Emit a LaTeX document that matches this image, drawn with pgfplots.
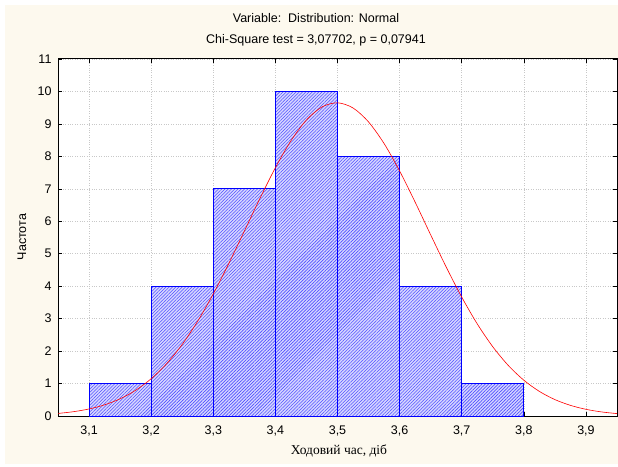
\documentclass[border=0pt]{standalone}
\usepackage{fontspec}
\setmainfont{Liberation Sans}
\newfontfamily\serifcyr{Liberation Serif}
\usepackage{pgfplots}
\pgfplotsset{compat=1.18}
\usetikzlibrary{patterns.meta}

\definecolor{cream}{RGB}{253,249,238}
\definecolor{gridgray}{RGB}{200,200,200}
\definecolor{hatchbg}{RGB}{215,215,255}
\definecolor{hatchfg}{RGB}{80,80,255}

\begin{document}
\begin{tikzpicture}[x=1pt,y=1pt]
% page and panel background
\fill[white] (0,0) rectangle (618,466);
\fill[cream] (5,2) rectangle (618,461);

\begin{axis}[
    at={(58pt,50pt)}, anchor=south west,
    width=559pt, height=357pt, scale only axis,
    xmin=3.05, xmax=3.95, ymin=0, ymax=11,
    xtick={3.1,3.2,3.3,3.4,3.5,3.6,3.7,3.8,3.9},
    ytick={0,1,2,3,4,5,6,7,8,9,10,11},
    tick pos=both, tick align=inside,
    major tick length=4pt,
    tick style={black, line width=0.6pt},
    axis line style={black, line width=1pt},
    axis background/.style={fill=white},
    grid=major,
    major grid style={gridgray, dotted, line width=0.6pt},
    /pgf/number format/assume math mode=true,
    ticklabel style={font=\fontsize{12.5}{14}\selectfont},
    yticklabel style={xshift=-3pt},
    xticklabel style={yshift=-6pt, /pgf/number format/.cd, fixed, fixed zerofill, precision=1, use comma},
]
% histogram
\addplot[ybar interval, draw=blue, line width=0.9pt,
    preaction={fill=hatchbg},
    pattern={Lines[angle=45, distance=2.3pt, line width=0.6pt]}, pattern color=hatchfg]
    coordinates {(3.1,1) (3.2,4) (3.3,7) (3.4,10) (3.5,8) (3.6,4) (3.7,1) (3.8,1)};
% expected normal curve
\addplot[red, line width=0.6pt, smooth] coordinates {
(3.05,0.079) (3.075,0.133) (3.1,0.217) (3.125,0.344) (3.15,0.530) (3.175,0.792)
(3.2,1.148) (3.225,1.615) (3.25,2.206) (3.275,2.924) (3.3,3.763) (3.325,4.699)
(3.35,5.695) (3.375,6.700) (3.4,7.651) (3.425,8.479) (3.45,9.121) (3.475,9.523)
(3.5,9.650) (3.525,9.491) (3.55,9.060) (3.575,8.395) (3.6,7.549) (3.625,6.589)
(3.65,5.582) (3.675,4.590) (3.7,3.664) (3.725,2.838) (3.75,2.134) (3.775,1.557)
(3.8,1.103) (3.825,0.758) (3.85,0.506) (3.875,0.328) (3.9,0.206) (3.925,0.126)
(3.95,0.074)};
\end{axis}

% titles and labels
\node[font=\fontsize{12.5}{14}\selectfont] at (316,448) {Variable:\ \ Distribution: Normal};
\node[font=\fontsize{12.5}{14}\selectfont] at (316,426) {Chi-Square test = 3,07702, p = 0,07941};
\node[font=\serifcyr\fontsize{13.5}{15}\selectfont] at (339,15) {Ходовий час, діб};
\node[font=\fontsize{12.5}{14}\selectfont, rotate=90] at (22,229) {Частота};
\end{tikzpicture}
\end{document}
